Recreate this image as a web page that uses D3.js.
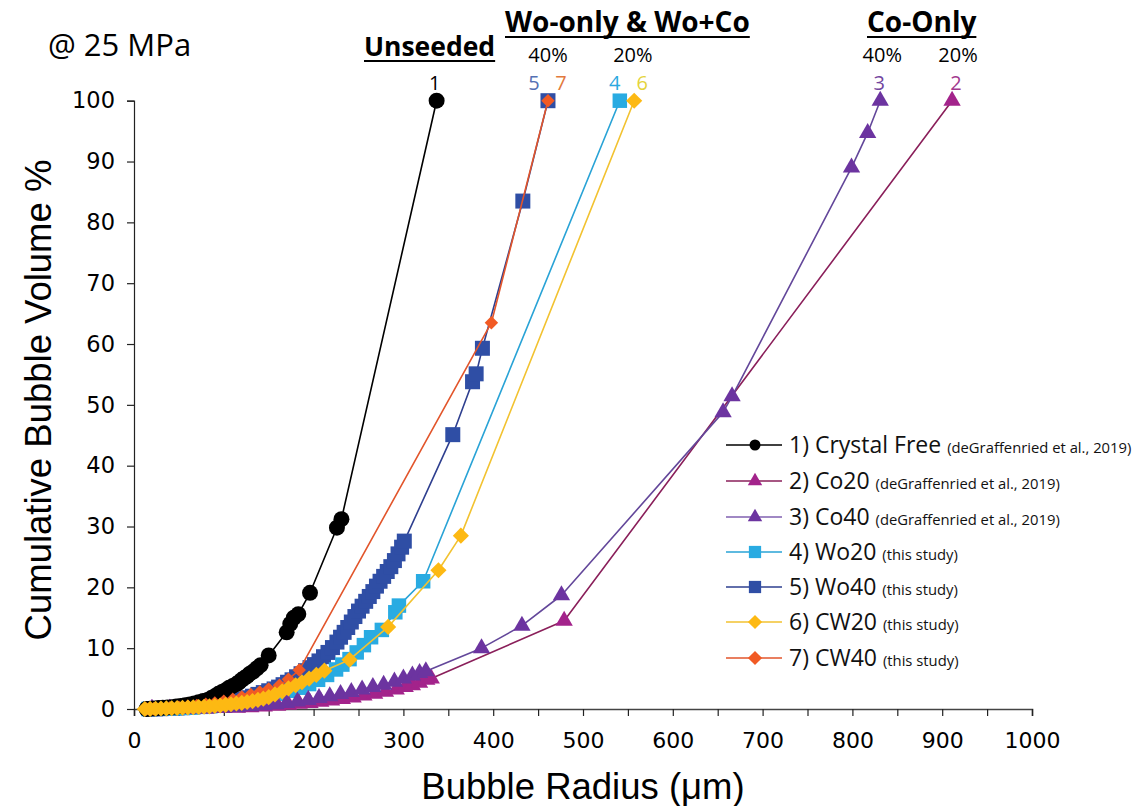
<!DOCTYPE html>
<html><head><meta charset="utf-8">
<script src="https://cdn.jsdelivr.net/npm/d3@7/dist/d3.min.js"></script>
<style>body{margin:0;background:#fff}</style>
</head><body>
<svg id="c" width="1137" height="806"></svg>
<script>
// ---- data: [bubble radius (µm), cumulative bubble volume %] ----
const crystalFree = [[14,0],[18,0.05],[22,0.1],[27,0.15],[32,0.2],[37,0.25],[42,0.3],[47,0.4],[52,0.5],[57,0.6],[62,0.75],[67,0.9],[72,1.1],[77,1.3],[82,1.5],[86,1.8],[90,2.1],[94,2.5],[98,2.8],[102,3.1],[106,3.5],[110,3.8],[114,4.1],[117,4.4],[120,4.8],[123,5.1],[126,5.4],[129,5.8],[133,6.2],[137,6.7],[141,7.2],[150,8.8],[170,12.6],[174,14.0],[178,15.0],[183,15.6],[196,19.1],[226,29.8],[231,31.2],[337,100]];
const co20 = [[20,0],[40,0.02],[60,0.05],[80,0.1],[100,0.15],[115,0.2],[130,0.3],[145,0.4],[160,0.55],[172,0.7],[184,0.85],[196,1.0],[208,1.2],[220,1.4],[232,1.65],[244,1.9],[256,2.2],[268,2.5],[280,2.85],[292,3.2],[302,3.6],[310,3.9],[318,4.3],[326,4.8],[331,5.0],[479,14.5],[911,100]];
const co40 = [[20,0],[40,0.02],[60,0.05],[80,0.1],[100,0.2],[115,0.3],[130,0.45],[145,0.6],[158,0.8],[170,1.0],[182,1.25],[194,1.5],[206,1.8],[218,2.1],[230,2.45],[242,2.8],[254,3.2],[266,3.6],[278,4.0],[290,4.5],[300,5.0],[310,5.5],[318,5.9],[325,6.2],[387,10.0],[432,13.7],[476,18.7],[656,48.8],[666,51.4],[799,89],[817,94.7],[831,100]];
const wo20 = [[16,0],[25,0.03],[35,0.07],[45,0.12],[55,0.18],[65,0.25],[75,0.35],[85,0.45],[95,0.6],[105,0.75],[115,0.95],[125,1.2],[135,1.45],[145,1.75],[155,2.1],[165,2.5],[175,3.0],[185,3.5],[195,4.1],[205,4.8],[215,5.6],[225,6.5],[232,7.3],[240,8.2],[248,9.3],[256,10.5],[264,11.8],[276,13.0],[291,15.9],[295,17.0],[322,21.0],[541,100]];
const wo40 = [[18,0],[24,0.02],[30,0.05],[36,0.08],[42,0.12],[48,0.17],[54,0.22],[60,0.28],[66,0.35],[72,0.43],[78,0.52],[84,0.62],[90,0.75],[96,0.9],[102,1.05],[108,1.2],[114,1.4],[120,1.6],[126,1.85],[132,2.1],[138,2.4],[144,2.7],[150,3.0],[156,3.3],[161,3.6],[166,4.0],[171,4.4],[176,4.8],[181,5.3],[186,5.8],[191,6.3],[196,6.8],[201,7.3],[206,7.9],[211,8.6],[216,9.3],[221,10.1],[226,11.0],[230,11.8],[234,12.6],[238,13.4],[242,14.3],[246,15.2],[250,16.1],[254,16.9],[258,17.7],[262,18.5],[266,19.3],[270,20.2],[274,21.0],[278,21.8],[282,22.6],[286,23.4],[290,24.4],[294,25.5],[298,26.6],[301,27.6],[355,45.1],[377,53.8],[381,55.1],[388,59.3],[433,83.5],[461,100]];
const cw20 = [[12,0],[18,0.02],[24,0.05],[30,0.08],[36,0.1],[42,0.13],[48,0.16],[54,0.2],[60,0.24],[66,0.28],[72,0.33],[78,0.38],[84,0.44],[90,0.5],[96,0.58],[102,0.68],[108,0.78],[114,0.9],[120,1.0],[126,1.15],[132,1.3],[138,1.5],[144,1.7],[150,1.95],[157,2.4],[165,2.9],[172,3.4],[180,3.9],[187,4.4],[195,5.0],[203,5.6],[212,6.3],[240,8.1],[283,13.5],[339,22.8],[364,28.5],[557,100]];
const cw40 = [[14,0],[22,0.05],[30,0.1],[40,0.2],[50,0.3],[60,0.45],[70,0.6],[80,0.8],[90,1.0],[100,1.3],[110,1.6],[120,2.0],[130,2.4],[140,2.8],[150,3.3],[162,3.9],[172,4.9],[184,6.4],[398,63.5],[461,100]];

const xTicks = [0,100,200,300,400,500,600,700,800,900,1000];
const yTicks = [0,10,20,30,40,50,60,70,80,90,100];
const legendMain = ["1) Crystal Free","2) Co20","3) Co40","4) Wo20","5) Wo40","6) CW20","7) CW40"];
const legendNote = ["(deGraffenried et al., 2019)","(deGraffenried et al., 2019)","(deGraffenried et al., 2019)","(this study)","(this study)","(this study)","(this study)"];

const series = [
  {id:5, data:wo40, shape:"square", size:225, fill:"#2f4ea5", line:"#2e3f8f"},
  {id:4, data:wo20, shape:"square", size:210, fill:"#29abe2", line:"#29a3d6"},
  {id:2, data:co20, shape:"triangle", size:130, fill:"#a3238b", line:"#8a1f5a"},
  {id:3, data:co40, shape:"triangle", size:130, fill:"#6c34a0", line:"#63479a"},
  {id:1, data:crystalFree, shape:"circle", size:200, fill:"#000000", line:"#000000"},
  {id:7, data:cw40, shape:"diamond", size:90, fill:"#f15a24", line:"#e2552b"},
  {id:6, data:cw20, shape:"diamond", size:130, fill:"#fdb913", line:"#f2c230"}
];
const legendStyle = {
  1:{shape:"circle",fill:"#000",line:"#000"},
  2:{shape:"triangle",fill:"#a3238b",line:"#8a1f5a"},
  3:{shape:"triangle",fill:"#6c34a0",line:"#8060b0"},
  4:{shape:"square",fill:"#29abe2",line:"#29a3d6"},
  5:{shape:"square",fill:"#2f4ea5",line:"#2e3f8f"},
  6:{shape:"diamond",fill:"#fdb913",line:"#f2c230"},
  7:{shape:"diamond",fill:"#f15a24",line:"#e2552b"}
};

const svg = d3.select("#c");
svg.append("rect").attr("width",1137).attr("height",806).attr("fill","#fff");
const x = d3.scaleLinear().domain([0,1000]).range([134,1032]);
const y = d3.scaleLinear().domain([0,100]).range([709,100.7]);

const symType = {circle:d3.symbolCircle, triangle:d3.symbolTriangle, square:d3.symbolSquare, diamond:d3.symbolSquare};
function sym(shape,size){ return d3.symbol().type(symType[shape]).size(size)(); }

// axes
const xAxis = svg.append("g").attr("transform",`translate(0,${y(0)})`)
  .call(d3.axisBottom(x).tickValues(d3.range(0,1001,50)).tickSize(7).tickFormat(d=> xTicks.includes(d)? d : ""));
xAxis.select(".domain").attr("stroke","#444").attr("stroke-width",1.6);
xAxis.selectAll(".tick line").attr("stroke","#222").attr("stroke-width",1.2);
xAxis.selectAll("text").attr("font-family","DejaVu Sans").attr("font-size",22).attr("fill","#000").attr("dy","1.3em");

const yAxis = svg.append("g").attr("transform",`translate(${x(0)},0)`)
  .call(d3.axisLeft(y).tickValues(yTicks).tickSize(7).tickPadding(12));
yAxis.select(".domain").attr("stroke","#222").attr("stroke-width",1.2);
yAxis.selectAll(".tick line").attr("stroke","#222").attr("stroke-width",1.2);
yAxis.selectAll("text").attr("font-family","DejaVu Sans").attr("font-size",22.5).attr("fill","#000");

// series
const lineGen = d3.line().x(d=>x(d[0])).y(d=>y(d[1])).curve(d3.curveLinear);
series.forEach(s=>{
  const g = svg.append("g");
  g.append("path").attr("d",lineGen(s.data)).attr("fill","none").attr("stroke",s.line).attr("stroke-width",1.6).attr("stroke-linejoin","round");
  g.selectAll("path.m").data(s.data).join("path").attr("class","m")
    .attr("d",sym(s.shape,s.size))
    .attr("transform",d=>`translate(${x(d[0])},${y(d[1])})`+(s.shape==="diamond"?" rotate(45)":""))
    .attr("fill",s.fill);
});

// axis titles
svg.append("text").attr("transform",`translate(51,400) rotate(-90)`).attr("text-anchor","middle")
  .attr("font-family","Liberation Sans, Arial").attr("font-size",36.5).text("Cumulative Bubble Volume %");
svg.append("text").attr("x",583).attr("y",799).attr("text-anchor","middle")
  .attr("font-family","Liberation Sans, Arial").attr("font-size",36.5).text("Bubble Radius (\u03BCm)");

// top annotations
svg.append("text").attr("x",48).attr("y",56).attr("font-family","Open Sans").attr("font-size",31).text("@ 25 MPa");
function heading(txt, xx, yy, fs){
  const t = svg.append("text").attr("x",xx).attr("y",yy).attr("font-family","Open Sans").attr("font-weight","bold")
    .attr("font-size",fs).text(txt);
  const w = t.node().getComputedTextLength();
  svg.append("line").attr("x1",xx).attr("x2",xx+w).attr("y1",yy+5).attr("y2",yy+5).attr("stroke","#000").attr("stroke-width",2);
}
heading("Unseeded",364,56,26.5);
heading("Wo-only & Wo+Co",505,32,28);
heading("Co-Only",867,32,28);
const small = [
  {t:"40%", x:x(461), y:62, c:"#000"},{t:"20%", x:x(550)+5, y:62, c:"#000"},
  {t:"40%", x:x(831)+2, y:62, c:"#000"},{t:"20%", x:x(911)+6, y:62, c:"#000"},
  {t:"1", x:x(337)-2, y:89.5, c:"#000"},
  {t:"5", x:x(461)-14, y:89.5, c:"#5470b3"},{t:"7", x:x(461)+13, y:89.5, c:"#e2793d"},
  {t:"4", x:x(541)-5, y:89.5, c:"#2aa8e0"},{t:"6", x:x(557)+8, y:89.5, c:"#e4d43c"},
  {t:"3", x:x(831)-1, y:89.5, c:"#7245a0"},{t:"2", x:x(911)+4, y:89.5, c:"#a23a8e"}
];
svg.selectAll("text.sm").data(small).join("text").attr("class","sm")
  .attr("x",d=>d.x).attr("y",d=>d.y).attr("text-anchor","middle").attr("font-family","Open Sans")
  .attr("font-size",20).attr("fill",d=>d.c).text(d=>d.t);

// legend
const legRows = [445,481,517,552,587,622,658];
legendMain.forEach((m,i)=>{
  const st = legendStyle[i+1];
  const g = svg.append("g").attr("transform",`translate(0,${legRows[i]})`);
  g.append("line").attr("x1",726).attr("x2",782).attr("stroke",st.line).attr("stroke-width",1.6);
  const sz = st.shape==="circle"?95: st.shape==="triangle"?90: st.shape==="square"?150:100;
  g.append("path").attr("d",sym(st.shape,sz)).attr("transform","translate(755,0)"+(st.shape==="diamond"?" rotate(45)":"")).attr("fill",st.fill);
  const t = g.append("text").attr("x",789).attr("y",8).attr("font-family","Open Sans").attr("fill","#111");
  t.append("tspan").attr("font-size",23).text(m+" ");
  t.append("tspan").attr("font-size",14.8).text(legendNote[i]);
});
</script>
</body></html>
